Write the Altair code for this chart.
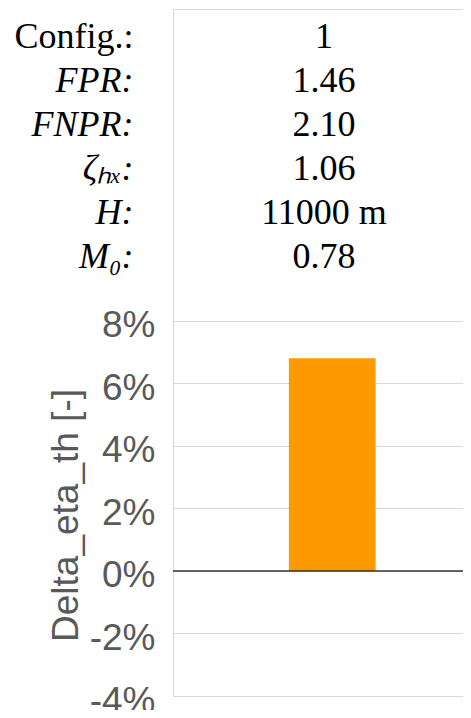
import altair as alt
import pandas as pd

# ---- data ----
row_labels = ["Config.:", "FPR:", "FNPR:", "ζₕₓ:", "H:", "M₀:"]
row_values = ["1", "1.46", "2.10", "1.06", "11000 m", "0.78"]
row_index = [0, 1, 2, 3, 4, 5]

configs = ["1"]
delta_eta_th = [0.068]
zero_line = [0.0]
y_ticks = [-0.04, -0.02, 0.0, 0.02, 0.04, 0.06, 0.08]
y_domain = [-0.04, 0.1797]
row_domain = [-0.636, 14.977]

table_df = pd.DataFrame({"row": row_index, "label": row_labels, "value": row_values})
bar_df = pd.DataFrame({"config": configs, "delta": delta_eta_th})
zero_df = pd.DataFrame({"y": zero_line})

GRID = "#d9d9d9"
GRAY_TXT = "#595959"

label_array = "[" + ",".join("'" + s + "'" for s in row_labels) + "]"

# ---- parameter table (upper part) ----
table = alt.Chart(table_df).mark_text(
    font="Liberation Serif", fontSize=36, color="black", baseline="middle", dx=6
).encode(
    y=alt.Y("row:Q",
            scale=alt.Scale(domain=row_domain, reverse=True, nice=False, zero=False),
            axis=alt.Axis(orient="left", title=None, ticks=False, domain=True,
                          domainColor=GRID, grid=False, values=row_index,
                          labelExpr=label_array + "[datum.value]",
                          labelFont="Liberation Serif", labelFontSize=36,
                          labelColor="black", labelPadding=40, labelFlush=False,
                          labelOverlap=False,
                          labelFontStyle={"condition": {"test": "datum.value === 0",
                                                        "value": "normal"},
                                          "value": "italic"})),
    text="value:N",
)

# ---- bar ----
bar = alt.Chart(bar_df).mark_bar(color="#ff9900").encode(
    x=alt.X("config:N",
            scale=alt.Scale(paddingInner=0.147, paddingOuter=1, align=0.57),
            axis=alt.Axis(orient="top", labels=False, ticks=False, title=None,
                          domain=True, domainColor=GRID, grid=False)),
    y=alt.Y("delta:Q",
            scale=alt.Scale(domain=y_domain, nice=False, zero=False),
            axis=alt.Axis(orient="left", values=y_ticks, format=".0%",
                          labelExpr="replace(datum.label, '\u2212', '-')",
                          ticks=False, domain=True, domainColor=GRID,
                          grid=True, gridColor=GRID, gridWidth=1,
                          labelFont="Liberation Sans", labelFontSize=37, labelColor=GRAY_TXT,
                          labelPadding=18, labelOffset=5, labelFlush=False,
                          title="Delta_eta_th [-]", titleFont="Liberation Sans",
                          titleFontSize=37, titleFontWeight="normal", titleColor=GRAY_TXT,
                          titlePadding=4, titleY=506)),
)

# ---- zero line ----
rule = alt.Chart(zero_df).mark_rule(color="#333333", strokeWidth=1.5).encode(
    y=alt.Y("y:Q", scale=alt.Scale(domain=y_domain, nice=False, zero=False), axis=None)
)

chart = alt.layer(table, bar, rule).resolve_scale(y="independent").properties(
    width=290,
    height=687,
    autosize=alt.AutoSizeParams(type="none"),
    padding={"left": 165, "top": 1, "right": 0, "bottom": 14},
).configure_view(strokeWidth=0)

chart.save("out.html", embed_options={"renderer": "svg", "actions": False})
